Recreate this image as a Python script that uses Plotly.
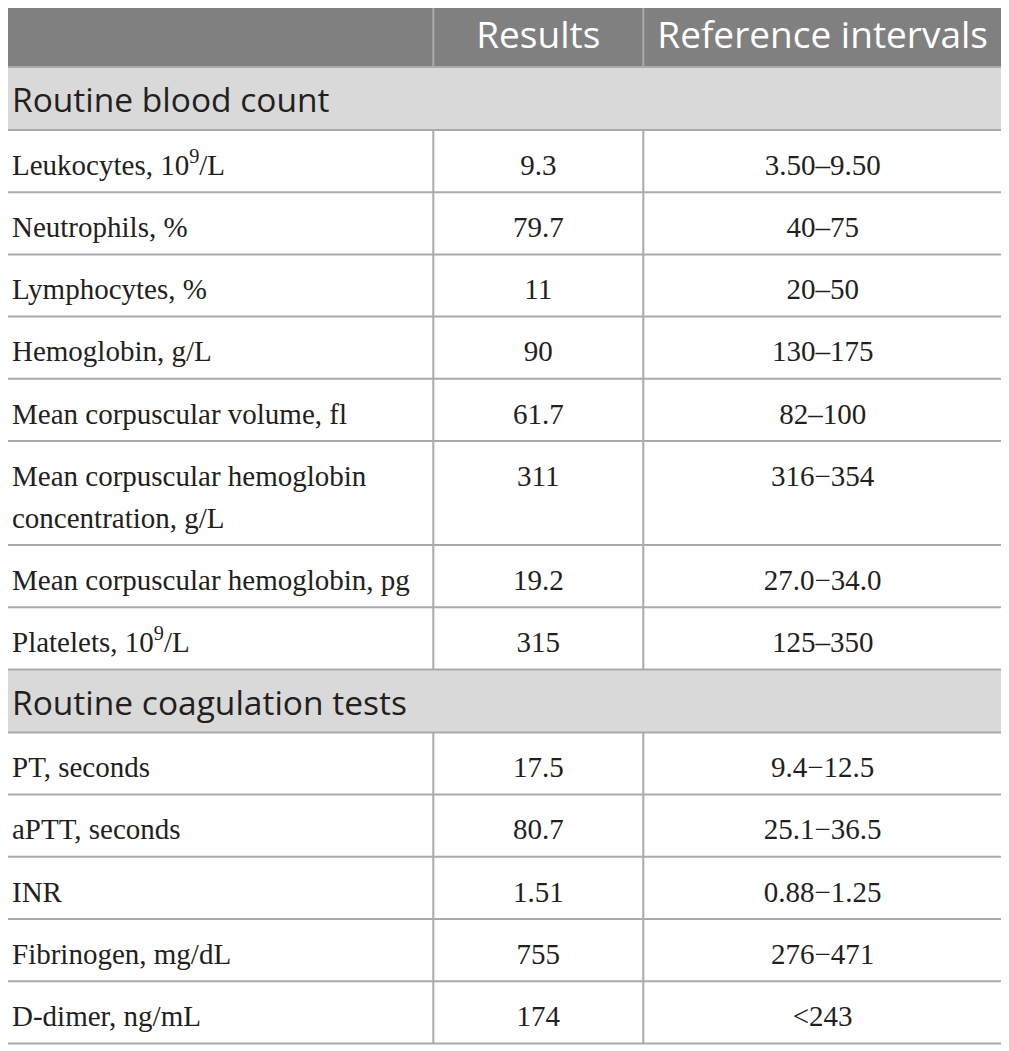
import plotly.graph_objects as go

# header
col_titles = ["", "Results", "Reference intervals"]

sections = ["Routine blood count", "Routine coagulation tests"]

# routine blood count
blood_tests = [
    "Leukocytes, 10<sup>9</sup>/L",
    "Neutrophils, %",
    "Lymphocytes, %",
    "Hemoglobin, g/L",
    "Mean corpuscular volume, fl",
    "Mean corpuscular hemoglobin<br>concentration, g/L",
    "Mean corpuscular hemoglobin, pg",
    "Platelets, 10<sup>9</sup>/L",
]
blood_results = ["9.3", "79.7", "11", "90", "61.7", "311", "19.2", "315"]
blood_ranges = ["3.50–9.50", "40–75", "20–50", "130–175", "82–100",
                "316−354", "27.0−34.0", "125–350"]

# routine coagulation tests
coag_tests = ["PT, seconds", "aPTT, seconds", "INR", "Fibrinogen, mg/dL", "D-dimer, ng/mL"]
coag_results = ["17.5", "80.7", "1.51", "755", "174"]
coag_ranges = ["9.4−12.5", "25.1−36.5", "0.88−1.25", "276−471", "<243"]

# look
W, H = 1009, 1051
OFF = 8  # page body margin, so axis units line up with page pixels
HEAD_BG = "#808080"
SECT_BG = "#d9d9d9"
GRID = "#aaaaaa"
INK = "#231f20"
SANS = "Open Sans"
SERIF = "Liberation Serif"
BODY_SIZE = 29

# geometry in pixels (axes are set 1 unit = 1 px)
col_edges = [6, 433.3, 643.3, 1002]
top = 6.5
head_h, sect_h, row_h, line_h = 60.5, 63, 62.2, 41.8
head_dy, sect_dy, text_dy = 32.5, 37, 37.5
pad = 6

groups = [(sections[0], blood_tests, blood_results, blood_ranges),
          (sections[1], coag_tests, coag_results, coag_ranges)]

fills = [(top, top + head_h, HEAD_BG)]
hlines = [top, top + head_h]
vsegs = [(top, top + head_h)]
sect_y, lab_y, lab_txt, val_y, val_res, val_rng = [], [], [], [], [], []

y = top + head_h
for name, tests, res, rng in groups:
    fills.append((y, y + sect_h, SECT_BG))
    sect_y.append(y + sect_dy)
    y += sect_h
    hlines.append(y)
    start = y
    for t, r, g in zip(tests, res, rng):
        lines = t.split("<br>")
        for i, ln in enumerate(lines):
            lab_y.append(y + text_dy + i * 42.4)
            lab_txt.append(ln)
        val_y.append(y + text_dy)
        val_res.append(r)
        val_rng.append(g)
        y += row_h + line_h * (len(lines) - 1)
        hlines.append(y)
    vsegs.append((start, y))
bottom = y

shapes = []
for y0, y1, c in fills:
    shapes.append(dict(type="rect", x0=col_edges[0], x1=col_edges[-1], y0=y0, y1=y1,
                       fillcolor=c, line=dict(width=0), layer="below"))
for hy in hlines:
    shapes.append(dict(type="line", x0=col_edges[0], x1=col_edges[-1], y0=hy, y1=hy,
                       line=dict(color=GRID, width=2), layer="below"))
for y0, y1 in vsegs:
    for cx in col_edges[1:-1]:
        shapes.append(dict(type="line", x0=cx, x1=cx, y0=y0, y1=y1,
                           line=dict(color=GRID, width=2), layer="below"))
for cx in (col_edges[0], col_edges[-1]):
    shapes.append(dict(type="line", x0=cx, x1=cx, y0=top, y1=bottom,
                       line=dict(color=GRID, width=2), layer="below"))

mid2 = (col_edges[1] + col_edges[2]) / 2
mid3 = (col_edges[2] + col_edges[3]) / 2

fig = go.Figure()
fig.add_trace(go.Scatter(
    x=[mid2, mid3], y=[top + head_dy] * 2, text=col_titles[1:],
    mode="text", textposition="middle center",
    textfont=dict(family=SANS, size=37, color="white"),
))
fig.add_trace(go.Scatter(
    x=[col_edges[0] + pad] * len(sections), y=sect_y, text=sections,
    mode="text", textposition="middle right",
    textfont=dict(family=SANS, size=33.5, color=INK),
))
fig.add_trace(go.Scatter(
    x=[col_edges[0] + pad] * len(lab_txt), y=lab_y, text=lab_txt,
    mode="text", textposition="middle right",
    textfont=dict(family=SERIF, size=BODY_SIZE, color=INK),
))
fig.add_trace(go.Scatter(
    x=[mid2] * len(val_res), y=val_y, text=val_res,
    mode="text", textposition="middle center",
    textfont=dict(family=SERIF, size=BODY_SIZE, color=INK),
))
fig.add_trace(go.Scatter(
    x=[mid3] * len(val_rng), y=val_y, text=val_rng,
    mode="text", textposition="middle center",
    textfont=dict(family=SERIF, size=BODY_SIZE, color=INK),
))

fig.update_traces(hoverinfo="skip", cliponaxis=False)
fig.update_layout(
    width=W, height=H,
    margin=dict(l=0, r=0, t=0, b=0),
    paper_bgcolor="white", plot_bgcolor="white",
    showlegend=False,
    shapes=shapes,
    xaxis=dict(range=[OFF, W + OFF], visible=False, fixedrange=True),
    yaxis=dict(range=[H + OFF, OFF], visible=False, fixedrange=True),
)

fig.write_html("out.html")
